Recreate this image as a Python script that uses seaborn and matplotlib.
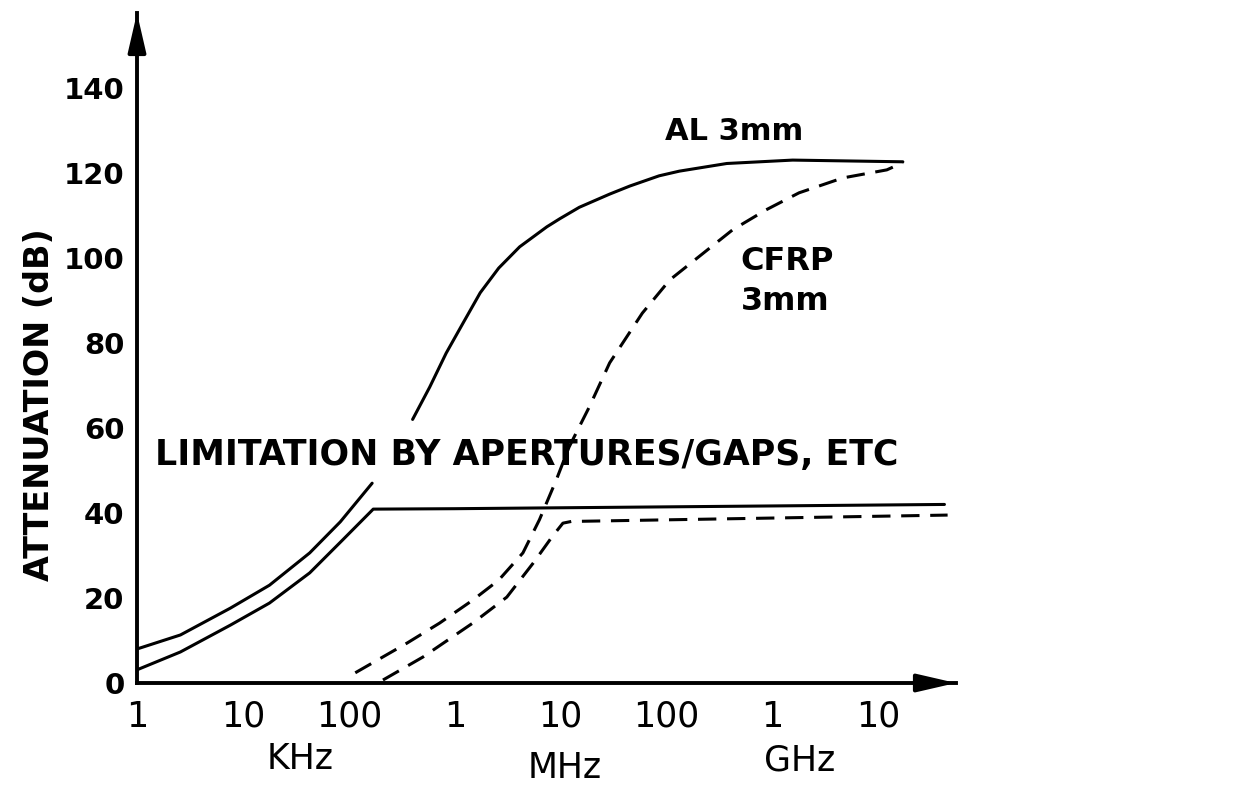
import matplotlib
matplotlib.use("Agg")
import matplotlib.pyplot as plt
import seaborn as sns

# values (frequency in Hz, attenuation in dB)
al_low_f = [1e3, 2.57e3, 7.6e3, 1.78e4, 4.27e4, 8.3e4, 1.66e5]
al_low_db = [8.0, 11.3, 17.6, 23.0, 30.6, 37.9, 47.0]

al_high_f = [4.0e5, 5.8e5, 8.3e5, 1.2e6, 1.74e6, 2.6e6, 4.1e6, 7.4e6, 9.8e6, 1.5e7,
             2.9e7, 4.5e7, 8.5e7, 1.32e8, 3.7e8, 1.55e9, 1.7e10]
al_high_db = [62, 69.6, 77.6, 84.7, 91.8, 97.6, 102.6, 107.3, 109.2, 111.9,
              115.0, 116.9, 119.3, 120.4, 122.2, 123, 122.6]

lim_al_f = [1e3, 2.57e3, 7.6e3, 1.78e4, 4.27e4, 8.7e4, 1.7e5, 1e6, 4.2e10]
lim_al_db = [3.1, 7.3, 13.6, 18.8, 25.9, 33.6, 40.9, 41.0, 42.0]

cfrp_f = [1.15e5, 3.55e5, 7.2e5, 1.48e6, 2.6e6, 4.4e6, 6.3e6, 9.1e6, 1.2e7, 1.86e7,
          2.9e7, 5.9e7, 1.07e8, 2.0e8, 4.2e8, 8.7e8, 1.78e9, 4.6e9, 1.2e10, 1.7e10]
cfrp_db = [2.4, 9.4, 14.1, 19.5, 24.2, 30.6, 38.4, 47.8, 55.5, 64.9,
           75.3, 87, 94.8, 100.2, 106.6, 111.3, 115.3, 118.8, 120.7, 122.4]

lim_cfrp_f = [2.1e5, 5.0e5, 1.48e6, 3.1e6, 5.5e6, 8.3e6, 1.05e7, 1.26e7, 4.5e10]
lim_cfrp_db = [0.7, 6.1, 14.1, 20.2, 28.2, 34.4, 37.6, 38.0, 39.5]

tick_freqs = [1e3, 1e4, 1e5, 1e6, 1e7, 1e8, 1e9, 1e10]
tick_labels = ["1", "10", "100", "1", "10", "100", "1", "10"]
db_ticks = [0, 20, 40, 60, 80, 100, 120, 140]

sns.set_style("white")
plt.rcParams["font.family"] = ["DejaVu Sans"]
plt.rcParams["text.color"] = "black"
plt.rcParams["xtick.color"] = "black"
plt.rcParams["ytick.color"] = "black"
plt.rcParams["xtick.labelcolor"] = "black"
plt.rcParams["ytick.labelcolor"] = "black"

fig = plt.figure(figsize=(12.51, 7.86), dpi=100)
ax = fig.add_axes([137 / 1251, 103 / 786, 819 / 1251, 670 / 786])
ax.set_xscale("log")

solid = dict(color="black", lw=2.2, estimator=None, sort=False, ax=ax)
dashed = dict(solid, linestyle=(0, (6, 3.5)))

sns.lineplot(x=al_low_f, y=al_low_db, **solid)
sns.lineplot(x=al_high_f, y=al_high_db, **solid)
sns.lineplot(x=lim_al_f, y=lim_al_db, **solid)
sns.lineplot(x=cfrp_f, y=cfrp_db, **dashed)
sns.lineplot(x=lim_cfrp_f, y=lim_cfrp_db, **dashed)

ax.set_xlim(1e3, 5.4e10)
ax.set_ylim(0, 157.6)
ax.set_xticks(tick_freqs)
ax.set_xticklabels(tick_labels, fontsize=25, color="black")
ax.set_yticks(db_ticks)
ax.set_yticklabels([str(v) for v in db_ticks], fontsize=21, fontweight="bold", color="black")
ax.minorticks_off()
ax.tick_params(axis="x", direction="out", length=8, width=2.2, pad=4, color="black")
ax.tick_params(axis="y", direction="out", length=7, width=2.2, pad=2, color="black")

for side in ["top", "right"]:
    ax.spines[side].set_visible(False)
for side in ["left", "bottom"]:
    ax.spines[side].set_linewidth(2.8)
    ax.spines[side].set_color("black")

# arrow heads on both axes
arrow = dict(arrowstyle="-|>,head_length=1.3,head_width=0.3", color="black",
             lw=2.8, mutation_scale=18, shrinkA=0, shrinkB=0)
ax.annotate("", xy=(1, 0), xytext=(0.96, 0), xycoords="axes fraction", arrowprops=arrow)
ax.annotate("", xy=(0, 1), xytext=(0, 0.95), xycoords="axes fraction", arrowprops=arrow)

ax.text(1.48e3, 51.3, "LIMITATION BY APERTURES/GAPS, ETC", fontsize=25,
        fontweight="bold", va="baseline", ha="left")
ax.text(9.6e7, 127.8, "AL 3mm", fontsize=22, fontweight="bold", va="baseline")
ax.text(5.0e8, 97.2, "CFRP", fontsize=23, fontweight="bold", va="baseline")
ax.text(5.0e8, 87.8, "3mm", fontsize=23, fontweight="bold", va="baseline")

ax.text(3.5e4, -20.2, "KHz", fontsize=25, ha="center", va="baseline", clip_on=False)
ax.text(1.1e7, -22.4, "MHz", fontsize=25, ha="center", va="baseline", clip_on=False)
ax.text(1.8e9, -20.5, "GHz", fontsize=25, ha="center", va="baseline", clip_on=False)

fig.text(40 / 1251, 1 - 405 / 786, "ATTENUATION (dB)", rotation=90, fontsize=24,
         fontweight="bold", ha="center", va="center")

fig.savefig("out.png", dpi=100, facecolor="white")
